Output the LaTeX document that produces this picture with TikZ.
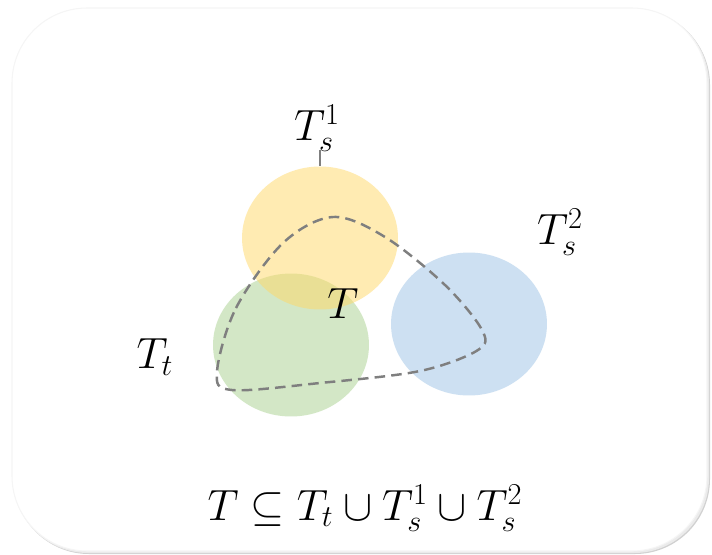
\documentclass[tikz,border=0pt]{standalone}
\usepackage{xcolor}
\usepackage{tikz}
\usetikzlibrary{shapes.geometric,positioning,calc}

\definecolor{setyellow}{HTML}{FFD966}
\definecolor{setgreen}{HTML}{A9D18E}
\definecolor{setblue}{HTML}{9DC3E6}
\definecolor{pathgray}{HTML}{7F7F7F}

\begin{document}
\begin{tikzpicture}[x=0.02cm, y=-0.02cm, semithick]
\tikzstyle{set}=[ellipse, draw=none, fill opacity=0.5, minimum width=3.12cm, minimum height=2.86cm]
\tikzstyle{lab}=[font=\fontsize{24}{28}\selectfont, inner sep=1pt]

\useasboundingbox (0,0) rectangle (712,554);

% Frame with a soft shadow
\fill[black!18, rounded corners=1.5cm] (14,10) rectangle (710,554);
\fill[black!8, rounded corners=1.5cm] (13,9) rectangle (709,553);
\fill[white, rounded corners=1.5cm] (12,8) rectangle (707,551);
\draw[black!4, rounded corners=1.5cm] (12,8) rectangle (707,551);

% The three sets
\node[set, fill=setgreen] (tt) at (291,345) {};
\node[set, fill=setyellow] (ts1) at (320,238) {};
\node[set, fill=setblue] (ts2) at (469,324) {};

% Target set T
\draw[pathgray, line width=1.4pt, dash pattern=on 6pt off 3.5pt] plot[smooth cycle, tension=0.55] coordinates
  {(217,372) (236,308) (283,243) (333,217) (385,237) (445,285) (482,330) (478,350) (420,371) (320,383) (232,390)};

% Labels
\node[lab] (lab1) at (317,128) {$T_s^1$};
\node[lab] (lab2) at (560,232) {$T_s^2$};
\node[lab] (labt) at (155,357) {$T_t$};
\node[lab] (labT) at (343,304) {$T$};
\coordinate (tick) at (320,150);
\draw[pathgray] (tick) -- (ts1.north);

\node[lab] (formula) at (365,508) {$T \subseteq T_t \cup T_s^1 \cup T_s^2$};
\end{tikzpicture}
\end{document}
